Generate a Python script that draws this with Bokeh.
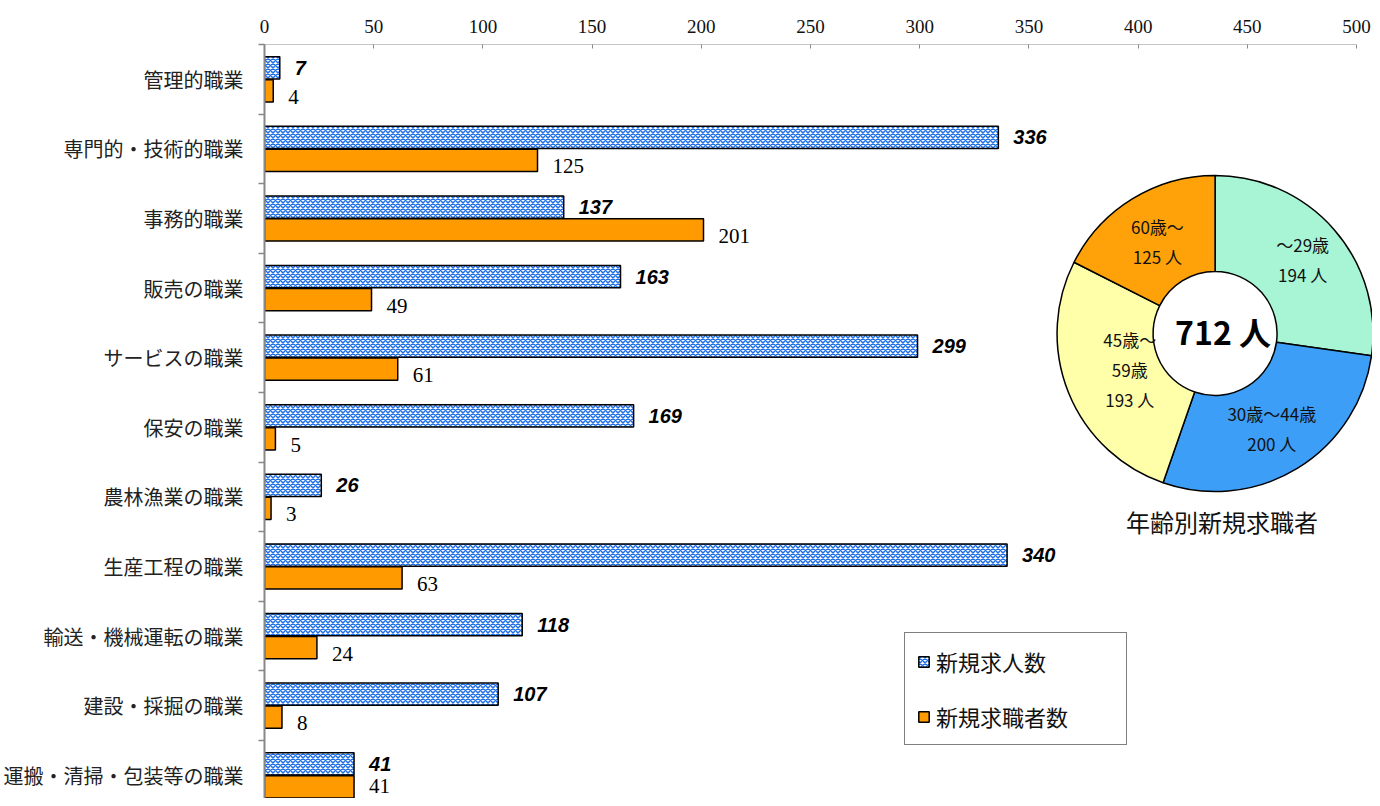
import math
from bokeh.plotting import figure
from bokeh.models import (Range1d, FixedTicker, Legend, LegendItem, ColumnDataSource)
from bokeh.core.properties import value
from bokeh.embed import file_html
from bokeh.resources import INLINE

# ---------------- data ----------------
categories = ["管理的職業", "専門的・技術的職業", "事務的職業", "販売の職業", "サービスの職業",
              "保安の職業", "農林漁業の職業", "生産工程の職業", "輸送・機械運転の職業",
              "建設・採掘の職業", "運搬・清掃・包装等の職業"]
openings = [7, 336, 137, 163, 299, 169, 26, 340, 118, 107, 41]      # 新規求人数
seekers = [4, 125, 201, 49, 61, 5, 3, 63, 24, 8, 41]                # 新規求職者数
x_ticks = [0, 50, 100, 150, 200, 250, 300, 350, 400, 450, 500]

age_groups = ["～29歳", "30歳～44歳", "45歳～\n59歳", "60歳～"]
age_counts = [194, 200, 193, 125]
age_colors = ["#A8F5D6", "#3C9EF6", "#FFFFAA", "#FFA20A"]

series_names = ["新規求人数", "新規求職者数"]
donut_title = "年齢別新規求職者"

# ---------------- layout constants ----------------
FIG_W, FIG_H = 1372, 798
BORDER_L, BORDER_T = 260, 44
FRAME_W = FIG_W - BORDER_L
FRAME_H = FIG_H - BORDER_T
PX_PER_UNIT = 1096 / 500.0
ROW_PX = 69.6
N = len(categories)
X_END = FRAME_W / PX_PER_UNIT
Y_TOP = float(N)
Y_BOTTOM = Y_TOP - FRAME_H / ROW_PX

centers = [N - i - 0.5 for i in range(N)]
y_open = [c + 0.165 for c in centers]
y_seek = [c - 0.165 for c in centers]
# orange labels sit a little below their bar, except the last one (kept inside the plot)
seek_label_dy = [6 if i < N - 1 else -1 for i in range(N)]

p = figure(width=FIG_W, height=FIG_H, output_backend="svg", toolbar_location=None,
           x_range=Range1d(0, X_END), y_range=Range1d(Y_BOTTOM, Y_TOP),
           x_axis_location="above", min_border_left=BORDER_L, min_border_right=0,
           min_border_top=BORDER_T, min_border_bottom=0)
p.outline_line_color = None
p.xgrid.visible = False
p.ygrid.visible = False
p.background_fill_color = "white"
p.border_fill_color = "white"

# top axis
xa = p.xaxis[0]
xa.ticker = FixedTicker(ticks=x_ticks, minor_ticks=[])
xa.bounds = (0, 500)
xa.axis_line_color = "#888888"
xa.axis_line_dash = "1 1"
xa.axis_line_width = 1
xa.major_tick_in = 4
xa.major_tick_out = 0
xa.major_tick_line_color = "#888888"
xa.minor_tick_line_color = None
xa.major_label_text_font = "Liberation Serif"
xa.major_label_text_font_size = "19px"
xa.major_label_text_color = "#111111"
xa.major_label_standoff = 12

# left axis
ya = p.yaxis[0]
ya.ticker = FixedTicker(ticks=centers, minor_ticks=[float(k) for k in range(N + 1)])
ya.major_label_overrides = {c: name for c, name in zip(centers, categories)}
ya.axis_line_color = "#888888"
ya.axis_line_width = 2
ya.major_tick_line_color = None
ya.major_tick_out = 0
ya.major_tick_in = 0
ya.minor_tick_out = 6
ya.minor_tick_in = 0
ya.minor_tick_line_color = "#888888"
ya.minor_tick_line_width = 1.5
ya.major_label_text_font = "Noto Sans CJK JP"
ya.major_label_text_font_size = "20px"
ya.major_label_text_color = "#222222"
ya.major_label_standoff = 15

# bars
src = ColumnDataSource(dict(cat=categories, op=openings, se=seekers, yo=y_open, ys=y_seek,
                            sdy=seek_label_dy,
                            op_t=[str(v) for v in openings], se_t=[str(v) for v in seekers]))
r_open = p.hbar(y="yo", right="op", left=0, height=0.32, source=src,
                fill_color="white", hatch_pattern="x", hatch_color="#1F6FE6",
                hatch_scale=5, hatch_weight=1.5, line_color="black", line_width=1.5)
r_seek = p.hbar(y="ys", right="se", left=0, height=0.32, source=src,
                fill_color="#FF9A00", line_color="black", line_width=1.5)

p.text(x="op", y="yo", text="op_t", source=src, x_offset=15, text_align="left",
       text_baseline="middle", text_font=value("Liberation Sans"),
       text_font_style="bold italic", text_font_size="20px", text_color="black")
p.text(x="se", y="ys", text="se_t", source=src, x_offset=15, y_offset="sdy", text_align="left",
       text_baseline="middle", text_font=value("Liberation Serif"),
       text_font_size="21px", text_color="black")

# donut
cx = (1214 - BORDER_L) / PX_PER_UNIT
cy = Y_TOP - (333 - BORDER_T) / ROW_PX
total = sum(age_counts)
starts, ends, mids = [], [], []
acc = 0
for v in age_counts:
    a0 = acc / total * 2 * math.pi
    acc += v
    a1 = acc / total * 2 * math.pi
    starts.append(math.pi / 2 - a0)
    ends.append(math.pi / 2 - a1)
    mids.append((a0 + a1) / 2)
label_r = [116, 109, 92, 110]
dsrc = ColumnDataSource(dict(
    s=starts, e=ends, c=age_colors,
    x=[cx] * len(age_counts), y=[cy] * len(age_counts),
    t=[g + "\n" + f"{v} 人" for g, v in zip(age_groups, age_counts)],
    dx=[r * math.sin(m) for r, m in zip(label_r, mids)],
    dy=[-r * math.cos(m) + 2 for r, m in zip(label_r, mids)],
))
p.annular_wedge(x="x", y="y", inner_radius=62, outer_radius=158,
                inner_radius_units="screen", outer_radius_units="screen",
                start_angle="s", end_angle="e", direction="clock", source=dsrc,
                fill_color="c", line_color="black", line_width=1.5)
p.text(x="x", y="y", text="t", source=dsrc, x_offset="dx", y_offset="dy",
       text_align="center", text_baseline="middle", text_font=value("Noto Sans CJK JP"),
       text_font_size="17px", text_color="#111111", text_line_height=1.2)
p.text(x=[cx], y=[cy], text=[f"{total} 人"], text_align="center", text_baseline="middle",
       text_font=value("Noto Sans CJK JP"), text_font_style="bold",
       text_font_size="32px", text_color="black", x_offset=8, y_offset=-3)
p.text(x=[cx], y=[cy], text=[donut_title], y_offset=188, x_offset=7,
       text_align="center", text_baseline="middle", text_font=value("Noto Sans CJK JP"),
       text_font_size="24px", text_color="#111111")

# legend
legend = Legend(items=[LegendItem(label=series_names[0], renderers=[r_open]),
                       LegendItem(label=series_names[1], renderers=[r_seek])],
                location=(640, 53), margin=0, padding=12, spacing=23,
                glyph_width=13, glyph_height=13, label_standoff=6, label_width=178,
                label_text_font="Noto Sans CJK JP", label_text_font_size="22px",
                label_text_color="#111111",
                border_line_color="black", border_line_width=1.5,
                background_fill_color="white", background_fill_alpha=1.0)
p.add_layout(legend)

open("out.html", "w").write(file_html(p, INLINE))
